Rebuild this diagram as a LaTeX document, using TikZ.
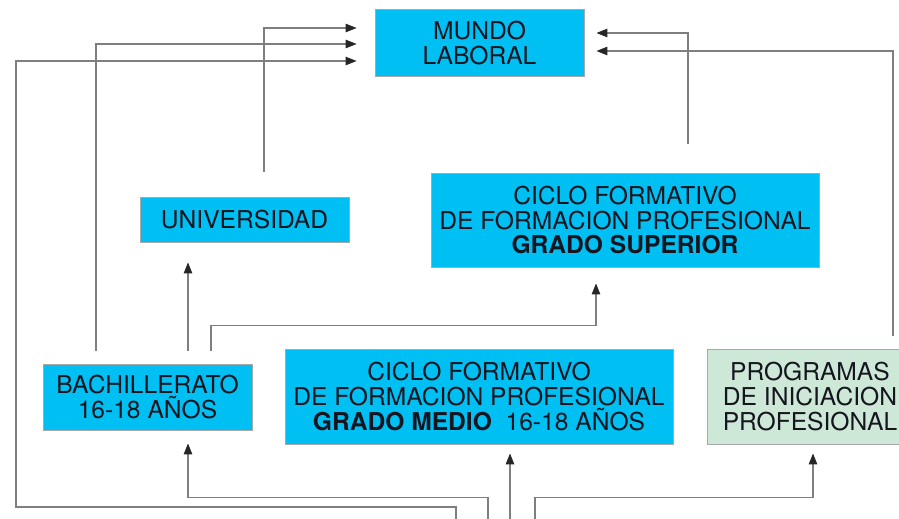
\documentclass[tikz,border=0pt]{standalone}
\usepackage{fontspec}
\setmainfont{TeX Gyre Heros}
\usetikzlibrary{arrows.meta}
\definecolor{boxcyan}{HTML}{00BFF2}
\definecolor{boxgreen}{HTML}{CDE8D6}
\definecolor{linegray}{HTML}{7F7F7F}
\definecolor{edgegray}{HTML}{A8A8A8}
\definecolor{txt}{HTML}{15151F}
\tikzset{
  box/.style={draw=edgegray, line width=0.9pt, fill=boxcyan, inner sep=0pt,
    align=center, text=txt, font=\fontsize{24.6}{24.6}\selectfont},
  gbox/.style={box, fill=boxgreen},
  conn/.style={draw=linegray, line width=1.1pt},
  arr/.style={conn, -{Triangle[length=11pt,width=8.5pt,color=black!85]}}
}
\begin{document}
\begin{tikzpicture}[x=1pt,y=1pt]
\useasboundingbox (0,0) rectangle (899,-519);
% boxes
\node[box, minimum width=209pt, minimum height=66.5pt] (mundo) at (479.5,-42.75) {MUNDO\\LABORAL};
\node[box, minimum width=209pt, minimum height=45pt] (univ) at (244.5,-219.5) {UNIVERSIDAD};
\node[box, minimum width=388pt, minimum height=94pt] (sup) at (625,-220) {CICLO FORMATIVO\\DE FORMACION PROFESIONAL\\\textbf{GRADO SUPERIOR}};
\node[box, minimum width=209pt, minimum height=66pt] (bach) at (147.5,-397) {BACHILLERATO\\16-18 AÑOS};
\node[box, minimum width=388pt, minimum height=95pt] (medio) at (479,-396.5) {CICLO FORMATIVO\\DE FORMACION PROFESIONAL\\\textbf{GRADO MEDIO}\ \ 16-18 AÑOS};
\begin{scope}
\clip (0,0) rectangle (899,-519);
\node[gbox, minimum width=206pt, minimum height=95pt] (prog) at (810,-396.5) {PROGRAMAS\\DE INICIACION\\PROFESIONAL};
\end{scope}
% free ends below the picture
\coordinate (b1) at ([shift={(-23,-75)}]medio.south);
\coordinate (b2) at ([shift={(9,-75)}]medio.south);
\coordinate (b3) at ([shift={(31,-75)}]medio.south);
\coordinate (b4) at ([shift={(56,-75)}]medio.south);
\coordinate (corner) at (16,-507);
% connectors to MUNDO LABORAL
\draw[arr] ([shift={(19.5,25)}]univ.north) |- ([shift={(-18,14.75)}]mundo.west);
\draw[arr] ([shift={(-51.5,13)}]bach.north) |- ([shift={(-18,-1.25)}]mundo.west);
\draw[arr] (b1) |- (corner) |- ([shift={(-18,-18.25)}]mundo.west);
\draw[arr] ([shift={(63,29)}]sup.north) |- ([shift={(12,9.75)}]mundo.east);
\draw[arr] ([shift={(83,13)}]prog.north) |- ([shift={(12,-8.25)}]mundo.east);
% from bachillerato
\draw[arr] ([shift={(40.5,13)}]bach.north) -- ([shift={(-56.5,-20)}]univ.south);
\draw[arr] ([shift={(63.5,13)}]bach.north) -- ++(0,25) -| ([shift={(-29,-16)}]sup.south);
% from below
\draw[arr] (b2) -- ++(0,22) -| ([shift={(40.5,-13)}]bach.south);
\draw[arr] (b3) -- ([shift={(31,-9)}]medio.south);
\draw[arr] (b4) -- ++(0,22) -| ([shift={(3,-9)}]prog.south);
\end{tikzpicture}
\end{document}
